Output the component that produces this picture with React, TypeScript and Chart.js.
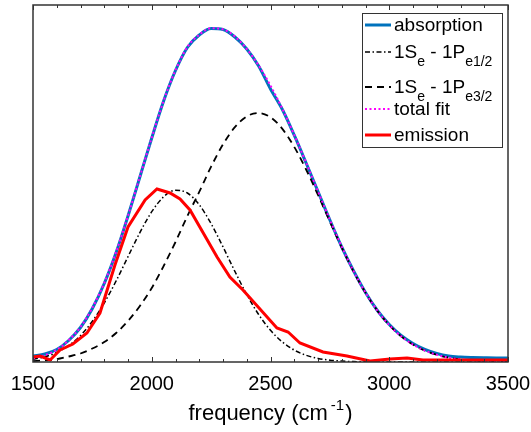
import React, { useEffect, useRef } from "react";
import { Chart, registerables } from "chart.js";

Chart.register(...registerables);

// ---- data (arbitrary intensity units) ----
const frequency = [
  1500, 1550, 1600, 1650, 1700, 1750, 1800, 1850, 1900, 1950, 2000, 2050, 2100, 2150,
  2200, 2250, 2300, 2350, 2400, 2450, 2500, 2550, 2600, 2650, 2700, 2750, 2800, 2850,
  2900, 2950, 3000, 3050, 3100, 3150, 3200, 3250, 3300, 3350, 3400, 3450, 3500,
];
const absorption = [
  6, 8, 12.5, 21.5, 34.5, 53.5, 78.5, 109.5, 146, 185, 224, 261, 291.5, 314.5,
  327, 333.5, 332.5, 325, 313, 296, 273, 252.5, 226.8, 199, 170.5, 142, 115, 91,
  69.5, 51.5, 37.5, 26.5, 18.5, 12.5, 8.5, 6, 5, 4.5, 4.2, 4, 4,
];
const fitE12 = [
  2.7, 5.2, 9.5, 16.3, 26.5, 40.7, 59.0, 81.1, 105.3, 129.4, 150.3, 165.2, 171.8, 169.0,
  157.2, 138.3, 115.1, 90.6, 67.5, 47.5, 31.7, 20.0, 11.9, 6.7, 3.6, 1.8, 0.9, 0.4,
  0.2, 0.1, 0, 0, 0, 0, 0, 0, 0, 0, 0, 0, 0,
];
const fitE32 = [
  0.9, 1.6, 2.8, 5.5, 8.5, 13.5, 20, 29, 41, 56, 74, 96, 120, 146,
  170.1, 195.4, 217.6, 234.8, 245.6, 249.0, 244.7, 233.1, 215.1, 192.5, 167.0, 140.4, 114.4, 90.3,
  69.2, 51.3, 36.9, 25.7, 17.4, 11.4, 7.2, 4.4, 2.6, 1.5, 0.9, 0.5, 0.2,
];
const totalFit = [
  3.6, 6.8, 12.3, 21.8, 35.0, 54.2, 79.0, 110.1, 146.3, 185.4, 224.3, 261.2, 291.8, 315.0,
  327.3, 333.7, 332.7, 325.4, 313.1, 296.5, 276.4, 253.1, 227.0, 199.2, 170.6, 142.2, 115.3, 90.7,
  69.4, 51.4, 36.9, 25.7, 17.4, 11.4, 7.2, 4.4, 2.6, 1.5, 0.9, 0.5, 0.2,
];
const emissionFrequency = [
  1500, 1530, 1572, 1614, 1668, 1727, 1782, 1845, 1900, 1972, 2022, 2077, 2119, 2161,
  2275, 2329, 2384, 2527, 2574, 2624, 2721, 2822, 2919, 3003, 3075, 3142, 3500,
];
const emission = [
  5, 6, 2, 12, 18, 29, 49, 97, 135, 162, 173, 169, 163, 152,
  105, 85, 72, 34, 30, 19, 10, 6, 1, 3, 4, 2, 2,
];
const xTickLabels = [1500, 2000, 2500, 3000, 3500];
const seriesNames = ["absorption", "1Se - 1Pe1/2", "1Se - 1Pe3/2", "total fit", "emission"];
const legendParts: { t: string; sub?: boolean }[][] = [
  [{ t: "absorption" }],
  [{ t: "1S" }, { t: "e", sub: true }, { t: " - 1P" }, { t: "e1/2", sub: true }],
  [{ t: "1S" }, { t: "e", sub: true }, { t: " - 1P" }, { t: "e3/2", sub: true }],
  [{ t: "total fit" }],
  [{ t: "emission" }],
];

const FONT = '"Liberation Sans", Arial, Helvetica, sans-serif';

const toPoints = (xs: number[], ys: number[]) => xs.map((x, i) => ({ x, y: ys[i] }));

const framePlugin = {
  id: "frameLegend",
  afterDraw(chart: any) {
    const { ctx, chartArea } = chart;
    const { left, right, top, bottom } = chartArea;
    const xs = chart.scales.x;
    ctx.save();
    // frame
    ctx.strokeStyle = "#333333";
    ctx.lineWidth = 1.5;
    ctx.setLineDash([]);
    ctx.strokeRect(left, top, right - left, bottom - top);
    // inward ticks
    ctx.lineWidth = 1;
    for (let v = xs.min; v <= xs.max; v += 100) {
      const px = Math.round(xs.getPixelForValue(v)) + 0.5;
      const len = v % 500 === 0 ? 5 : 3;
      ctx.beginPath();
      ctx.moveTo(px, bottom);
      ctx.lineTo(px, bottom - len);
      ctx.moveTo(px, top);
      ctx.lineTo(px, top + len);
      ctx.stroke();
    }
    // axis title with superscript
    ctx.fillStyle = "#000";
    ctx.textBaseline = "alphabetic";
    const mainFont = `22px ${FONT}`;
    const supFont = `15px ${FONT}`;
    ctx.font = mainFont;
    const w1 = ctx.measureText("frequency (cm").width;
    const w3 = ctx.measureText(")").width;
    ctx.font = supFont;
    const w2 = ctx.measureText("-1").width;
    const gap = 3;
    const total = w1 + gap + w2 + w3 + 1;
    let tx = (left + right) / 2 - total / 2;
    const baseY = 420;
    ctx.font = mainFont;
    ctx.textAlign = "left";
    ctx.fillText("frequency (cm", tx, baseY);
    tx += w1 + gap;
    ctx.font = supFont;
    ctx.fillText("-1", tx, baseY - 10);
    tx += w2 + 1;
    ctx.font = mainFont;
    ctx.fillText(")", tx, baseY);

    // legend
    const lx = 362, ly = 13, lw = 140, lh = 134;
    ctx.fillStyle = "#ffffff";
    ctx.fillRect(lx, ly, lw, lh);
    ctx.strokeStyle = "#333333";
    ctx.lineWidth = 1;
    ctx.strokeRect(lx + 0.5, ly + 0.5, lw, lh);
    const rowY = [25, 52, 87, 109, 135];
    chart.data.datasets.forEach((ds: any, i: number) => {
      const y = rowY[i];
      ctx.save();
      ctx.strokeStyle = ds.borderColor;
      ctx.lineWidth = ds.borderWidth;
      ctx.setLineDash(ds.borderDash || []);
      ctx.beginPath();
      ctx.moveTo(365, y);
      ctx.lineTo(391, y);
      ctx.stroke();
      ctx.restore();
      let x = 394;
      ctx.fillStyle = "#000";
      ctx.textBaseline = "middle";
      for (const part of legendParts[i]) {
        if (part.sub) {
          ctx.font = `14px ${FONT}`;
          ctx.fillText(part.t, x, y + 10);
        } else {
          ctx.font = `19px ${FONT}`;
          ctx.fillText(part.t, x, y + 1);
        }
        x += ctx.measureText(part.t).width;
      }
    });
    ctx.restore();
  },
};

export default function App() {
  const ref = useRef<HTMLCanvasElement | null>(null);
  useEffect(() => {
    if (!ref.current) return;
    const smooth = { tension: 0.4, cubicInterpolationMode: "monotone" as const };
    const chart = new Chart(ref.current, {
      type: "line",
      data: {
        datasets: [
          {
            label: seriesNames[0],
            data: toPoints(frequency, absorption),
            borderColor: "#0072BD",
            borderWidth: 3,
            pointRadius: 0,
            order: 4,
            ...smooth,
          },
          {
            label: seriesNames[1],
            data: toPoints(frequency, fitE12),
            borderColor: "#000000",
            borderWidth: 1.5,
            borderDash: [5, 2.5, 1.5, 2.5],
            pointRadius: 0,
            order: 3,
            ...smooth,
          },
          {
            label: seriesNames[2],
            data: toPoints(frequency, fitE32),
            borderColor: "#000000",
            borderWidth: 1.8,
            borderDash: [7, 5],
            pointRadius: 0,
            order: 2,
            ...smooth,
          },
          {
            label: seriesNames[3],
            data: toPoints(frequency, totalFit),
            borderColor: "#FF00FF",
            borderWidth: 2,
            borderDash: [2, 2.5],
            pointRadius: 0,
            order: 1,
            ...smooth,
          },
          {
            label: seriesNames[4],
            data: toPoints(emissionFrequency, emission),
            borderColor: "#FF0000",
            borderWidth: 3,
            pointRadius: 0,
            tension: 0,
            order: 0,
          },
        ],
      },
      options: {
        animation: false,
        responsive: false,
        maintainAspectRatio: false,
        layout: { padding: { left: 33, right: 23, top: 5, bottom: 0 } },
        plugins: {
          legend: { display: false },
          tooltip: { enabled: false },
          title: { display: false },
        },
        scales: {
          x: {
            type: "linear",
            min: 1500,
            max: 3500,
            afterFit: (s: any) => {
              s.height = 70;
              s.paddingLeft = 0;
              s.paddingRight = 0;
            },
            afterBuildTicks: (s: any) => {
              s.ticks = xTickLabels.map((v) => ({ value: v }));
            },
            grid: { display: false, drawTicks: false },
            border: { display: false },
            ticks: {
              padding: 10,
              maxRotation: 0,
              autoSkip: false,
              color: "#000",
              font: { family: FONT, size: 20 },
              callback: (v: any) => String(v),
            },
          },
          y: {
            display: false,
            min: 0,
            max: 357,
          },
        },
      },
      plugins: [framePlugin],
    });
    return () => chart.destroy();
  }, []);
  return (
    <div style={{ position: "fixed", left: 0, top: 0, width: 531, height: 432, background: "#fff" }}>
      <canvas ref={ref} width={531} height={432} style={{ display: "block" }} />
    </div>
  );
}
